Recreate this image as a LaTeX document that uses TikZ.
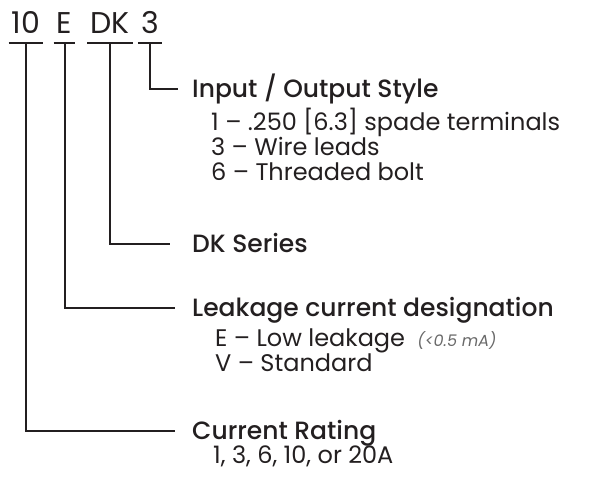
\documentclass[tikz,border=0pt]{standalone}
\usepackage{fontspec}
\setmainfont{Poppins}[BoldFont={Poppins Medium}]
\usetikzlibrary{positioning}
\definecolor{inkgray}{RGB}{35,31,32}
\definecolor{notegray}{RGB}{105,105,105}

\begin{document}
\begin{tikzpicture}[
x=1pt, y=-1pt,
codepart/.style={inner xsep=3pt, inner ysep=0pt, text depth=10pt, anchor=base, font=\fontsize{30}{30}\selectfont, text=inkgray},
heading/.style={inner sep=0pt, text height=17pt, text depth=0pt, anchor=base west, font=\bfseries\fontsize{25}{25}\selectfont, text=inkgray},
subline/.style={inner sep=0pt, anchor=base west, font=\fontsize{24}{24}\selectfont, text=inkgray},
note/.style={inner sep=0pt, anchor=base west, font=\itshape\fontsize{16}{16}\selectfont, text=notegray},
leader/.style={draw=inkgray, line width=2pt}]
\useasboundingbox (0,0) rectangle (591,477);
% Part number
\node[codepart] (ten) at (26,33) {10};
\node[codepart] (e) at (64.5,33) {E};
\node[codepart] (dk) at (110,33) {DK};
\node[codepart] (three) at (150,33) {3};
% Headings
\node[heading] (io) at (192,97) {Input / Output Style};
\node[heading] (series) at (192,252) {DK Series};
\node[heading] (leak) at (192,316) {Leakage current designation};
\node[heading] (rating) at (192,439) {Current Rating};
% Options
\node[subline] (io1) at (211,130) {1 – .250 [6.3] spade terminals};
\node[subline] (io3) at (211,155) {3 – Wire leads};
\node[subline] (io6) at (211,180) {6 – Threaded bolt};
\node[subline] (leake) at (215,346) {E – Low leakage};
\node[note] (lownote) at ([xshift=12pt]leake.base east) {(<0.5 mA)};
\node[subline] (leakv) at (215,371) {V – Standard};
\node[subline] (ratings) at (213,463) {1, 3, 6, 10, or 20A};
% Lines
\draw[leader] (ten.south west) -- (ten.south east);
\draw[leader] (e.south west) -- (e.south east);
\draw[leader] (dk.south west) -- (dk.south east);
\draw[leader] (three.south west) -- (three.south east);
\draw[leader] (three.south) |- ([xshift=-14pt]io.west);
\draw[leader] (dk.south) |- ([xshift=-22pt]series.west);
\draw[leader] (e.south) |- ([xshift=-17pt]leak.west);
\draw[leader] (ten.south) |- ([xshift=-17pt]rating.west);
\end{tikzpicture}
\end{document}
